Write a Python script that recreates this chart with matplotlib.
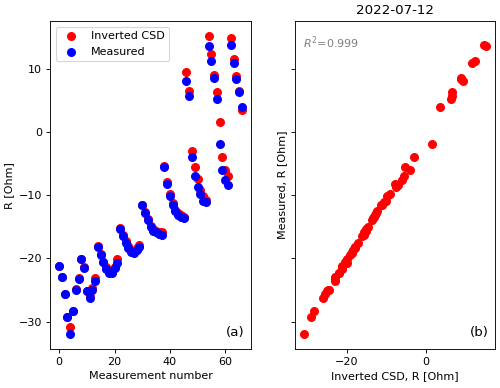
import numpy as np
import matplotlib
matplotlib.use("Agg")
import matplotlib.pyplot as plt

# measurement index
n = np.arange(67)

measured = [-21.2, -23.0, -25.7, -29.3, -32.0, -28.3, -25.0, -23.3, -20.1, -21.5,
            -25.2, -26.2, -25.0, -23.5, -18.2, -19.4, -20.6, -21.6, -22.3, -22.3,
            -21.5, -20.8, -15.3, -16.5, -17.5, -18.3, -19.0, -19.1, -18.7, -18.2,
            -11.6, -12.8, -14.0, -15.1, -15.6, -15.9, -16.1, -16.3, -5.6, -8.2,
            -10.2, -11.5, -12.5, -13.1, -13.4, -13.6, 8.1, 5.7, -4.0, -7.0,
            -8.7, -9.8, -10.9, -11.0, 13.6, 11.2, 8.5, 5.2, -1.9, -6.0,
            -7.6, -8.4, 13.7, 10.9, 8.4, 6.4, 3.9]

inverted = [-21.2, -23.0, -25.7, -29.2, -30.9, -28.3, -24.8, -23.1, -20.1, -21.4,
            -25.2, -26.0, -24.7, -23.1, -18.1, -19.3, -20.5, -21.4, -22.1, -22.1,
            -21.3, -20.1, -15.2, -16.3, -17.3, -18.1, -18.7, -18.8, -18.4, -17.9,
            -11.5, -12.6, -13.8, -14.8, -15.3, -15.6, -15.8, -15.8, -5.4, -7.9,
            -9.8, -11.2, -12.3, -12.8, -13.2, -13.4, 9.5, 6.5, -3.0, -5.6,
            -7.5, -9.2, -10.1, -10.7, 15.2, 12.4, 9.0, 6.4, 1.5, -4.0,
            -6.0, -7.0, 14.8, 11.6, 8.9, 6.5, 3.5]

fig = plt.figure(figsize=(6.25, 4.85), dpi=80)
ax1 = fig.add_axes([0.100, 0.100, 0.402, 0.846])
ax2 = fig.add_axes([0.590, 0.100, 0.400, 0.846], sharey=ax1)

ax1.scatter(n, inverted, color="red", s=50, label="Inverted CSD")
ax1.scatter(n, measured, color="blue", s=50, label="Measured")
ax1.set_xlabel("Measurement number")
ax1.set_ylabel("R [Ohm]")
ax1.set_xticks([0, 20, 40, 60])
ax1.legend(loc="upper left")
ax1.text(0.97, 0.03, "(a)", transform=ax1.transAxes, ha="right", va="bottom", fontsize=12)

ax2.scatter(inverted, measured, color="red", s=50)
ax2.set_xlabel("Inverted CSD, R [Ohm]")
ax2.set_ylabel("Measured, R [Ohm]")
ax2.set_title("2022-07-12")
ax2.set_xticks([-20, 0])
ax2.tick_params(labelleft=False)
ax2.text(0.04, 0.96, "$R^2$=0.999", transform=ax2.transAxes, ha="left", va="top", color="gray")
ax2.text(0.97, 0.03, "(b)", transform=ax2.transAxes, ha="right", va="bottom", fontsize=12)

fig.savefig("out.png")
